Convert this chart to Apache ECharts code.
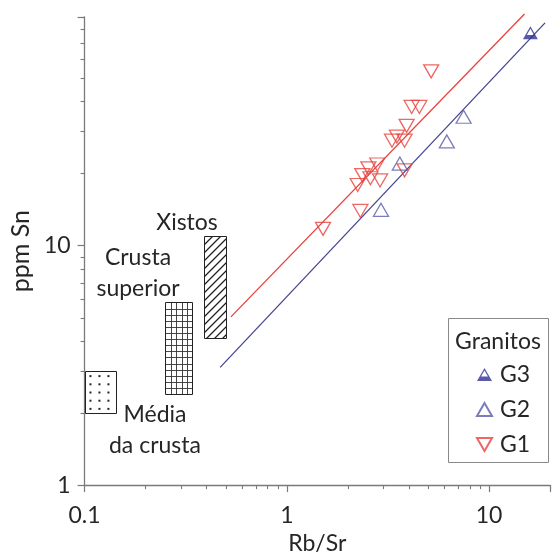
<!DOCTYPE html>
<html><head><meta charset="utf-8">
<script src="https://cdn.jsdelivr.net/npm/echarts@6/dist/echarts.min.js"></script>
<style>html,body{margin:0;padding:0;background:#fff}#c{width:553px;height:560px}</style>
</head><body><div id="c"></div>
<script>
// ---- axes ----
const xRange = [0.1, 20];
const yRange = [1, 90];
const xTickLabels = [0.1, 1, 10];
const yTickLabels = [1, 10];
const xMinorTicks = [0.2,0.3,0.4,0.5,0.6,0.7,0.8,0.9,2,3,4,5,6,7,8,9,20];
const yMinorTicks = [2,3,4,5,6,7,8,9,20,30,40,50,60,70,80,90];

// ---- data (Rb/Sr, ppm Sn) ----
const g1RbSr = [5.17, 4.14, 4.52, 3.91, 3.50, 3.31, 3.82, 2.80, 2.53, 2.36, 2.59, 2.89, 3.82, 2.24, 2.31, 1.51];
const g1Sn   = [53.4, 37.9, 37.9, 31.6, 28.5, 27.4, 27.4, 21.8, 21.0, 19.7, 19.1, 18.7, 20.6, 17.9, 13.95, 11.75];
const g2RbSr = [2.92, 3.62, 6.18, 7.48];
const g2Sn   = [14.1, 22.0, 27.2, 34.5];
const g3RbSr = [16.0];
const g3Sn   = [77.3];

// trend lines
const g1LineRbSr = [0.529, 14.96];
const g1LineSn   = [5.04, 92.7];
const g23LineRbSr = [0.468, 18.9];
const g23LineSn   = [3.10, 85.1];

// reference fields [RbSr min, RbSr max, Sn min, Sn max]
const mediaCrusta = [0.1, 0.143, 2, 3];
const crustaSuperior = [0.25, 0.34, 2.4, 5.8];
const xistos = [0.39, 0.5, 4.1, 11];

const zip = (a, b) => a.map((v, i) => [v, b[i]]);
const FONT = 'Lato';
const TXT = '#262626';
const AX = '#7a7a7a';
const RED = '#e8413c';
const BLUE = '#5a5da6';
const NAVY = '#2e3192';

function isLabel(v, list) {
  return list.some(t => Math.abs(Math.log10(v) - Math.log10(t)) < 1e-6);
}
function fmt(v) { return String(+(+v).toPrecision(6)); }

function boxRender(kind) {
  return function (params, api) {
    const p0 = api.coord([api.value(0), api.value(3)]);
    const p1 = api.coord([api.value(1), api.value(2)]);
    const x0 = Math.round(p0[0]) + 0.5, y0 = Math.round(p0[1]) + 0.5;
    const x1 = Math.round(p1[0]) + 0.5, y1 = Math.round(p1[1]) + 0.5;
    const w = x1 - x0, h = y1 - y0;
    const ch = [];
    ch.push({ type: 'rect', shape: { x: x0, y: y0, width: w, height: h }, style: { fill: '#fff', stroke: 'none' } });
    const ls = { stroke: '#333', lineWidth: 0.9 };
    if (kind === 'dots') {
      for (let i = 0; i < 3; i++) for (let j = 0; j < 5; j++) {
        const cx = x0 + w * (0.16 + 0.29 * i), cy = y0 + h * (0.11 + 0.195 * j);
        ch.push({ type: 'rect', shape: { x: cx - 1, y: cy - 1, width: 2, height: 2 }, style: { fill: '#222' } });
      }
    } else if (kind === 'grid') {
      for (let i = 1; i < 5; i++) {
        const x = Math.round(x0 + w * i / 5) + 0.5;
        ch.push({ type: 'line', shape: { x1: x, y1: y0, x2: x, y2: y1 }, style: ls });
      }
      const step = 6.1;
      for (let y = y0 + step; y < y1 - 1; y += step) {
        const yy = Math.round(y) + 0.5;
        ch.push({ type: 'line', shape: { x1: x0, y1: yy, x2: x1, y2: yy }, style: ls });
      }
    } else if (kind === 'hatch') {
      const step = 8;
      for (let c = x0 + y0 + step; c < x1 + y1; c += step) {
        const xa = Math.max(x0, c - y1), xb = Math.min(x1, c - y0);
        if (xa < xb) ch.push({ type: 'line', shape: { x1: xa, y1: c - xa, x2: xb, y2: c - xb }, style: { stroke: '#222', lineWidth: 1.2 } });
      }
    }
    ch.push({ type: 'rect', shape: { x: x0, y: y0, width: w, height: h }, style: { fill: 'none', stroke: '#222', lineWidth: 1 } });
    return { type: 'group', children: ch };
  };
}

function boxSeries(box, kind) {
  return { type: 'custom', coordinateSystem: 'cartesian2d', clip: false, silent: true, z: 1,
    data: [box], encode: { x: [0, 1], y: [2, 3] }, renderItem: boxRender(kind) };
}

const G3_PATH = 'path://M7,0 L14,12 L0,12 Z M7,2.3 L3.7,7.9 L10.3,7.9 Z';
const UP_PATH = 'path://M7,0 L14,12 L0,12 Z';
const DOWN_PATH = 'path://M0,0 L14,0 L7,12 Z';

const chart = echarts.init(document.getElementById('c'), null, { renderer: 'canvas' });
chart.setOption({
  animation: false,
  backgroundColor: '#fff',
  textStyle: { fontFamily: FONT },
  grid: { left: 84, right: -5, top: 17, bottom: 70, containLabel: false },
  xAxis: {
    type: 'log', logBase: 10, min: xRange[0], max: xRange[1],
    name: 'Rb/Sr', nameLocation: 'middle', nameGap: 46,
    nameTextStyle: { fontFamily: FONT, fontSize: 23, color: TXT },
    axisLine: { lineStyle: { color: AX, width: 1.3 } },
    axisTick: { length: 7, lineStyle: { color: AX, width: 1.2 } },
    axisLabel: { margin: 19, fontFamily: FONT, fontSize: 23, color: TXT,
      formatter: v => isLabel(v, xTickLabels) ? fmt(v) : '' },
    splitLine: { show: false }, minorTick: { show: false }
  },
  yAxis: {
    type: 'log', logBase: 10, min: yRange[0], max: yRange[1],
    name: 'ppm Sn', nameLocation: 'middle', nameGap: 44, nameRotate: 90,
    nameTextStyle: { fontFamily: FONT, fontSize: 25, color: TXT },
    axisLine: { lineStyle: { color: AX, width: 1.3 } },
    axisTick: { length: 7, lineStyle: { color: AX, width: 1.2 } },
    axisLabel: { margin: 14, fontFamily: FONT, fontSize: 23, color: TXT,
      formatter: v => isLabel(v, yTickLabels) ? fmt(v) : '' },
    splitLine: { show: false }, minorTick: { show: false }
  },
  legend: {
    data: ['G3', 'G2', 'G1'], orient: 'vertical', left: 471, top: 358,
    itemWidth: 15, itemHeight: 13, itemGap: 12,
    textStyle: { fontFamily: FONT, fontSize: 23, color: TXT, lineHeight: 22, padding: [0, 0, 0, 3] },
    selectedMode: false
  },
  graphic: [
    { type: 'rect', z: 0, shape: { x: 448.5, y: 318.5, width: 100, height: 144 }, style: { fill: '#fff', stroke: '#888', lineWidth: 1 } },
    { type: 'text', z: 5, x: 498, y: 342, style: { text: 'Granitos', font: '23px Lato', fill: TXT, align: 'center', verticalAlign: 'middle' } },
    { type: 'text', z: 5, x: 187, y: 223, style: { text: 'Xistos', font: '23px Lato', fill: TXT, align: 'center', verticalAlign: 'middle' } },
    { type: 'text', z: 5, x: 138, y: 258, style: { text: 'Crusta', font: '23px Lato', fill: TXT, align: 'center', verticalAlign: 'middle' } },
    { type: 'text', z: 5, x: 138, y: 289, style: { text: 'superior', font: '23px Lato', fill: TXT, align: 'center', verticalAlign: 'middle' } },
    { type: 'text', z: 5, x: 155, y: 415, style: { text: 'Média', font: '23px Lato', fill: TXT, align: 'center', verticalAlign: 'middle' } },
    { type: 'text', z: 5, x: 155, y: 446, style: { text: 'da crusta', font: '23px Lato', fill: TXT, align: 'center', verticalAlign: 'middle' } }
  ],
  series: [
    boxSeries(mediaCrusta, 'dots'),
    boxSeries(crustaSuperior, 'grid'),
    boxSeries(xistos, 'hatch'),
    { type: 'custom', coordinateSystem: 'cartesian2d', clip: false, silent: true,
      data: xMinorTicks.map(v => [v, yRange[0]]),
      renderItem: (p, api) => { const c = api.coord([api.value(0), api.value(1)]); const x = Math.round(c[0]) + 0.5;
        return { type: 'line', shape: { x1: x, y1: c[1], x2: x, y2: c[1] + 4 }, style: { stroke: AX, lineWidth: 1.1 } }; } },
    { type: 'custom', coordinateSystem: 'cartesian2d', clip: false, silent: true,
      data: yMinorTicks.map(v => [xRange[0], v]),
      renderItem: (p, api) => { const c = api.coord([api.value(0), api.value(1)]); const y = Math.round(c[1]) + 0.5;
        return { type: 'line', shape: { x1: c[0] - 4, y1: y, x2: c[0], y2: y }, style: { stroke: AX, lineWidth: 1.1 } }; } },
    { name: 'G1 trend', type: 'line', data: zip(g1LineRbSr, g1LineSn), showSymbol: false, clip: false, silent: true,
      lineStyle: { color: RED, width: 1.3 }, z: 3 },
    { name: 'G2+G3 trend', type: 'line', data: zip(g23LineRbSr, g23LineSn), showSymbol: false, clip: false, silent: true,
      lineStyle: { color: '#46468f', width: 1.3 }, z: 3 },
    { name: 'G1', type: 'scatter', data: zip(g1RbSr, g1Sn), symbol: DOWN_PATH, symbolSize: [15, 13], z: 4,
      itemStyle: { color: 'rgba(255,255,255,0)', borderColor: RED, borderWidth: 1.3 } },
    { name: 'G2', type: 'scatter', data: zip(g2RbSr, g2Sn), symbol: UP_PATH, symbolSize: [15, 13], z: 4,
      itemStyle: { color: 'rgba(255,255,255,0)', borderColor: BLUE, borderWidth: 1.3 } },
    { name: 'G3', type: 'scatter', data: zip(g3RbSr, g3Sn), symbol: G3_PATH, symbolSize: [15, 13], z: 4,
      itemStyle: { color: NAVY, borderColor: NAVY, borderWidth: 0 } }
  ]
});
</script>
</body></html>
